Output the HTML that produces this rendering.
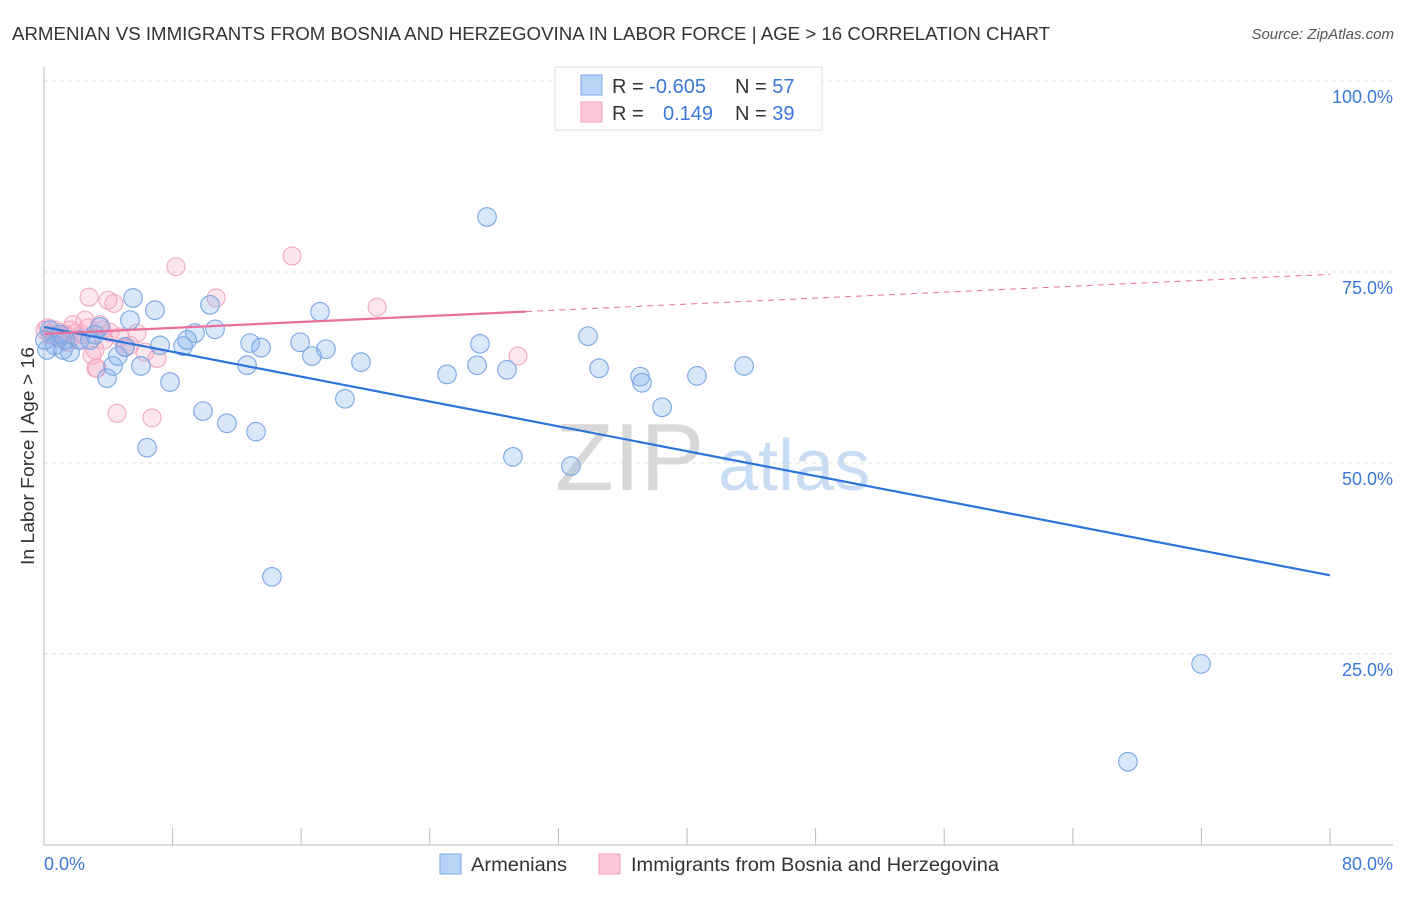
<!DOCTYPE html>
<html><head><meta charset="utf-8"><style>
body{margin:0;background:#fff;font-family:"Liberation Sans",sans-serif}
svg text{font-family:"Liberation Sans",sans-serif}
</style></head><body>
<svg id="chart" width="1406" height="892" xmlns="http://www.w3.org/2000/svg">
<text x="12" y="40" font-size="18" fill="#333" textLength="1038" lengthAdjust="spacingAndGlyphs">ARMENIAN VS IMMIGRANTS FROM BOSNIA AND HERZEGOVINA IN LABOR FORCE | AGE &gt; 16 CORRELATION CHART</text>
<text x="1394" y="39" font-size="15" fill="#555" font-style="italic" text-anchor="end">Source: ZipAtlas.com</text>
<g id="grid"></g>
<text x="555" y="490" font-size="96" fill="#d8d8d8" font-family="Liberation Serif">ZIP</text>
<text x="718" y="490" font-size="72" fill="#c8dcf4">atlas</text>
<line x1="44" y1="67" x2="44" y2="845" stroke="#bbb"/>
<line x1="44" y1="845" x2="1393" y2="845" stroke="#bbb"/>
<g id="ticks"></g>
<g id="pts"></g>
<g id="trends"></g>
<text transform="translate(34,456) rotate(-90)" font-size="18" fill="#333" text-anchor="middle" textLength="218" lengthAdjust="spacingAndGlyphs">In Labor Force | Age &gt; 16</text>
<text x="44" y="870" font-size="18" fill="#3b78d8">0.0%</text>
<text x="1393" y="870" font-size="18" fill="#3b78d8" text-anchor="end">80.0%</text>
<g>
<rect x="555" y="67" width="267" height="63" fill="#fff" stroke="#ddd"/>
<rect x="581" y="75" width="21" height="20" fill="#b8d3f5" stroke="#7aa8e6"/>
<rect x="581" y="102" width="21" height="20" fill="#fac8d7" stroke="#f0a0b8"/>
<text x="612" y="93" font-size="20" fill="#333">R = <tspan fill="#3b78d8">-0.605</tspan></text>
<text x="735" y="93" font-size="20" fill="#333">N = <tspan fill="#3b78d8">57</tspan></text>
<text x="612" y="120" font-size="20" fill="#333">R = <tspan fill="#3b78d8" x="663">0.149</tspan></text>
<text x="735" y="120" font-size="20" fill="#333">N = <tspan fill="#3b78d8">39</tspan></text>
</g>
<g>
<rect x="440" y="854" width="21" height="20" fill="#b8d3f5" stroke="#7aa8e6"/>
<text x="471" y="871" font-size="19" fill="#333" textLength="96" lengthAdjust="spacingAndGlyphs">Armenians</text>
<rect x="599" y="854" width="21" height="20" fill="#fac8d7" stroke="#f0a0b8"/>
<text x="631" y="871" font-size="19" fill="#333" textLength="368" lengthAdjust="spacingAndGlyphs">Immigrants from Bosnia and Herzegovina</text>
</g>
</svg>
<script>
const yTicks=[100,75,50,25];
const yTickLabels=["100.0%","75.0%","50.0%","25.0%"];
const blueX=[0.37,0.19,0.68,1.18,1.62,1.31,2.24,2.86,3.17,3.48,3.92,4.29,4.6,5.04,5.35,5.54,6.03,6.41,6.9,7.22,7.84,8.65,8.9,9.39,9.89,10.33,10.64,11.38,12.63,12.82,13.19,13.5,14.18,15.93,16.67,17.17,17.54,18.72,19.72,25.07,26.94,27.12,27.56,28.8,29.17,32.78,33.84,34.53,37.08,37.2,38.45,40.62,43.55,71.98,67.43,0.06,1.0];
const blueY=[67.4,64.8,65.4,64.8,64.5,66.1,66.1,66.1,66.8,67.8,61.1,62.7,64.0,65.2,68.7,71.6,62.7,52.0,70.0,65.4,60.6,65.3,66.1,67.0,56.8,70.7,67.5,55.2,62.8,65.7,54.1,65.1,35.1,65.8,64.0,69.8,64.9,58.4,63.2,61.6,62.8,65.6,82.2,62.2,50.8,49.6,66.6,62.4,61.3,60.5,57.3,61.4,62.7,23.7,10.9,66.1,66.8];
const pinkX=[0.06,0.37,0.68,1.0,1.31,1.62,1.8,2.12,2.36,2.55,2.8,2.99,3.17,3.3,3.48,3.73,3.98,4.35,4.54,4.73,5.04,5.79,6.28,6.72,7.03,8.21,10.7,15.43,20.72,29.49,0.25,0.87,1.49,1.93,2.74,3.23,3.61,4.11,5.35];
const pinkY=[67.4,66.8,67.4,67.1,66.8,67.4,68.1,66.1,66.8,68.7,71.7,64.1,64.8,62.4,68.1,66.1,71.3,70.9,56.5,66.5,65.1,67.0,64.5,55.9,63.7,75.7,71.6,77.1,70.4,64.0,67.7,66.4,65.8,67.0,67.7,62.4,67.4,67.1,65.4];
const blueTrend=[67.8,35.3];
const pinkTrend=[66.9,74.7];
const pinkSolidEnd=30;
const xTicks=[0,8,16,24,32,40,48,56,64,72,80];

const NS="http://www.w3.org/2000/svg";
const sx=v=>44+v*(1286/80);
const sy=v=>845-v*7.64;
function mk(tag,attrs,parent){const e=document.createElementNS(NS,tag);for(const k in attrs)e.setAttribute(k,attrs[k]);parent.appendChild(e);return e;}
const grid=document.getElementById('grid');
yTicks.forEach((t,i)=>{
  const l=mk('line',{x1:44,x2:1393,y1:sy(t),y2:sy(t),stroke:'#e2e2e2','stroke-dasharray':'4,4'},grid);
  
  
  const tx=mk('text',{x:1393,y:sy(t)+22,'font-size':18,fill:'#3b78d8','text-anchor':'end'},grid);
  tx.textContent=yTickLabels[i];
  
  
});
const ticks=document.getElementById('ticks');
xTicks.slice(1).forEach(t=>{
  const l=mk('line',{x1:sx(t),x2:sx(t),y1:828,y2:845,stroke:'#bbb'},ticks);
  
  
});
const pts=document.getElementById('pts');
pinkX.forEach((x,i)=>{
  const c=mk('circle',{cx:sx(x),cy:sy(pinkY[i]),r:9,fill:'rgba(244,165,195,0.28)',stroke:'#f2a8c0','stroke-width':1.1},pts);
  
  
});
blueX.forEach((x,i)=>{
  const c=mk('circle',{cx:sx(x),cy:sy(blueY[i]),r:9.3,fill:'rgba(130,175,235,0.3)',stroke:'#7aa6e4','stroke-width':1.1},pts);
  
  
});
const tr=document.getElementById('trends');
const pAt=x=>pinkTrend[0]+(pinkTrend[1]-pinkTrend[0])*x/80;
const b=mk('line',{x1:sx(0),y1:sy(blueTrend[0]),x2:sx(80),y2:sy(blueTrend[1]),stroke:'#2f74d8','stroke-width':2.2},tr);


const p1=mk('line',{x1:sx(0),y1:sy(pAt(0)),x2:sx(pinkSolidEnd),y2:sy(pAt(pinkSolidEnd)),stroke:'#e8709a','stroke-width':2.2},tr);


const p2=mk('line',{x1:sx(pinkSolidEnd),y1:sy(pAt(pinkSolidEnd)),x2:sx(80),y2:sy(pAt(80)),stroke:'#e8709a','stroke-width':1,'stroke-dasharray':'6,5'},tr);


</script>
</body></html>
